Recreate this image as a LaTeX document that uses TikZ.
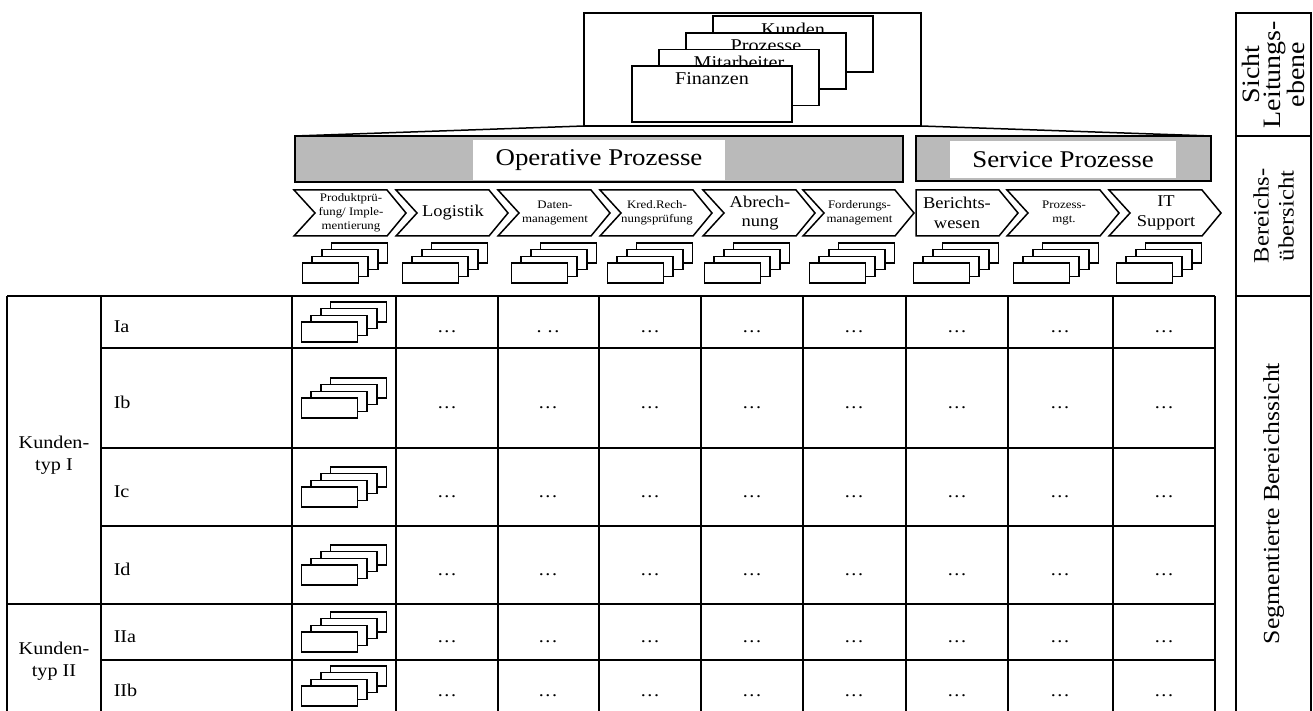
\documentclass[tikz,border=0pt]{standalone}
\usepackage{fontspec}
\setmainfont{Liberation Serif}[FakeStretch=1.12]
\tikzset{
  blatt/.style={draw,fill=white},
  balken/.style={draw,fill=black!27},
  klein/.style={font=\fontsize{11.5}{14}\selectfont},
  mittel/.style={font=\fontsize{16.5}{19.5}\selectfont},
  gross/.style={font=\fontsize{24}{28}\selectfont},
  tabtext/.style={font=\fontsize{18}{22}\selectfont},
  seite/.style={rotate=90,align=center,inner sep=0pt}
}
% Stapel aus 4 Blaettern, Mitte (#1,#2)
\newcommand{\blattstapel}[2]{%
  \foreach \k in {3,2,1,0}
    \draw[blatt] ({#1-42.5+9.7*\k},{#2-6.7*\k}) rectangle ++(56,20);}
% Prozesspfeil: linke Kante #1, Breite #2, Stil #3, Text #4
\newcommand{\prozesspfeil}[4]{%
  \draw[blatt] (#1,190) -- ({#1+#2-19},190) -- ({#1+#2},213) -- ({#1+#2-19},236)
    -- (#1,236) -- ({#1+21},213) -- cycle;
  \node[#3,align=center,inner sep=0pt] (pf#1) at ({#1+#2/2+1},213) {#4};}
\newcommand{\punkte}{.\kern1.6pt.\kern1.6pt.}
\begin{document}
\begin{tikzpicture}[x=1pt,y=-1pt,line width=1.5pt,line join=miter]
\useasboundingbox (0,0) rectangle (1313,711);
% Sicht Leitungsebene
\draw (584,13) rectangle (921,126);
\foreach \n/\t in {3/Kunden,2/Prozesse,1/Mitarbeiter,0/Finanzen}{
  \draw[blatt] ({632+27*\n},{66-16.6*\n}) rectangle ++(160,56);
  \node[tabtext,anchor=base,inner sep=0pt] (ziel\n) at ({712+27*\n},{85-16.6*\n}) {\t};}
\draw (584,126) -- (295,136);
\draw (921,126) -- (1211,136);
% Balken
\draw[balken] (295,136) rectangle (903,182);
\draw[balken] (916,136) rectangle (1211,181);
\node[gross,fill=white,minimum width=252pt,minimum height=40pt] (op) at (599,160) {Operative Prozesse};
\node[gross,fill=white,minimum width=226pt,minimum height=37pt] (serv) at (1063,159.5) {Service Prozesse};
% Prozesskette
\prozesspfeil{294}{112}{klein}{Produktprü-\\fung/ Imple-\\mentierung}
\prozesspfeil{396}{112}{mittel}{Logistik}
\prozesspfeil{498}{112}{klein}{Daten-\\management}
\prozesspfeil{600}{112}{klein}{Kred.Rech-\\nungsprüfung}
\prozesspfeil{703}{112}{mittel}{Abrech-\\nung}
\prozesspfeil{803}{111}{klein}{Forderungs-\\management}
\draw[blatt] (916,190) -- (999,190) -- (1018,213) -- (999,236) -- (916,236) -- cycle;
\node[mittel,align=center,inner sep=0pt] (pf916) at (957,213) {Berichts-\\wesen};
\prozesspfeil{1007}{112}{klein}{Prozess-\\mgt.}
\prozesspfeil{1109}{112}{mittel}{IT\\Support}
\foreach \x in {345,445,554,650,747,852,956,1056,1159} \blattstapel{\x}{263};
% Tabelle
\foreach \y in {296,604} \draw (7,\y) -- (1215,\y);
\foreach \y in {348,448,526,660} \draw (101,\y) -- (1215,\y);
\foreach \x in {7,101,292,396,498,599,701,803,906,1008,1113,1215} \draw (\x,296) -- (\x,713);
\node[tabtext,align=center] (typ1) at (54,455) {Kunden-\\typ I};
\node[tabtext,align=center] (typ2) at (54,661) {Kunden-\\typ II};
\foreach \name/\ym in {Ia/322,Ib/398,Ic/487,Id/565,IIa/632,IIb/686}{
  \node[tabtext,anchor=base west,inner sep=0pt] (z\name) at (113,{\ym+10}) {\name};
  \blattstapel{344}{\ym}
  \foreach \xm in {447,548,650,752,854,957,1060,1164}
    \node[tabtext,anchor=base,inner sep=0pt] (d\name\xm) at (\xm,{\ym+10})
      {\ifnum\ym=322 \ifnum\xm=548 .\kern6pt.\kern1.6pt.\else\punkte\fi\else\punkte\fi};
}
% rechte Spalte
\draw (1236,13) rectangle (1311,713);
\draw (1236,136) -- (1311,136);
\draw (1236,296) -- (1311,296);
\node[seite,font=\fontsize{25}{21}\selectfont] (sicht) at (1273.5,74.5) {Sicht\\Leitungs-\\ebene};
\node[seite,font=\fontsize{22}{25}\selectfont] (bereich) at (1273.5,216) {Bereichs-\\übersicht};
\node[seite,font=\fontsize{23}{27}\selectfont] (segment) at (1273.5,503.5) {Segmentierte Bereichssicht};
\end{tikzpicture}
\end{document}
